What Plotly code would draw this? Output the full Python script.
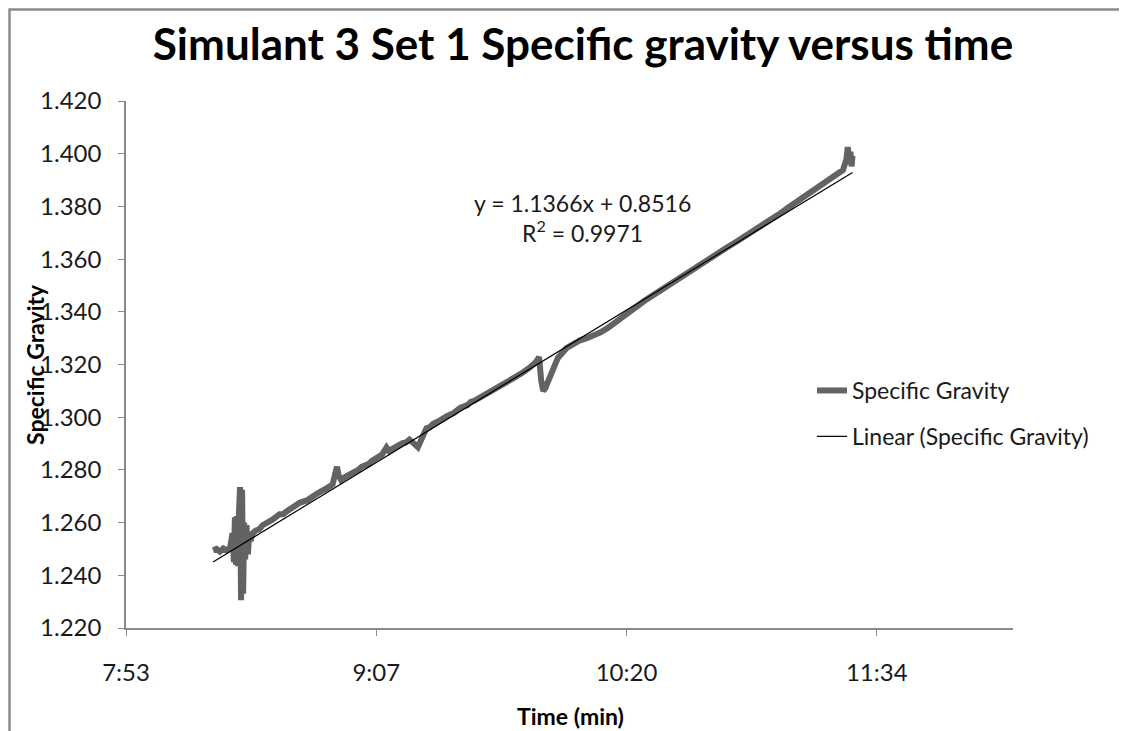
import plotly.graph_objects as go

# time of day in minutes after midnight, specific gravity
time_min = [
    498.5, 499.5, 500.5, 501.5, 502.5, 503.5,
    504.2, 504.6, 504.9, 505.2, 505.5, 505.8, 506.1, 506.4, 506.7, 507.0, 507.3,
    507.6, 507.9, 508.3, 508.7, 509.1, 509.5,
    510, 511, 512, 513, 514, 515, 516, 518, 519, 520, 522, 523, 524, 526, 527,
    528, 530, 531, 532, 533.5,
    534.3, 534.8, 535.3, 536, 537, 538, 540, 541, 542, 544, 545, 546, 548, 549.3,
    550, 551, 552, 554, 555,
    556, 557.5, 558.5, 559.5, 561, 562, 563, 565, 566, 567, 569, 570, 571, 573,
    574, 575, 577, 578, 579,
    581, 582, 583, 585, 586, 587, 589, 590, 591, 593, 594, 594.6, 595.2, 595.8,
    597, 599.5,
    602, 604, 606, 608, 610, 612, 614, 616, 618, 620, 622, 625, 628, 631, 634, 637,
    640, 643, 646,
    649, 652, 655, 658, 661, 664, 667, 670, 673, 676, 679, 681, 683, 684, 684.4,
    684.8, 685.2, 685.5, 685.8,
]
sg = [
    1.2495, 1.2500, 1.2490, 1.2502, 1.2495, 1.2505,
    1.2560, 1.2450, 1.2620, 1.2440, 1.2625, 1.2435, 1.2640, 1.2735, 1.2305, 1.2725,
    1.2330, 1.2600, 1.2460, 1.2590, 1.2480, 1.2560, 1.2530,
    1.2558, 1.2570, 1.2575, 1.2590, 1.2598, 1.2600, 1.2612, 1.2632, 1.2632, 1.2642,
    1.2662, 1.2666, 1.2676, 1.2684, 1.2696,
    1.2702, 1.2718, 1.2722, 1.2732, 1.2745,
    1.2790, 1.2812, 1.2778, 1.2762, 1.2772, 1.2778, 1.2795, 1.2800, 1.2812, 1.2822,
    1.2834, 1.2840, 1.2858, 1.2885,
    1.2872, 1.2880, 1.2888, 1.2902, 1.2904,
    1.2915, 1.2898, 1.2886, 1.2915, 1.2958, 1.2962, 1.2975, 1.2988, 1.2998, 1.3004,
    1.3016, 1.3030, 1.3036, 1.3046,
    1.3058, 1.3062, 1.3076, 1.3086, 1.3090,
    1.3105, 1.3115, 1.3122, 1.3138, 1.3142, 1.3152, 1.3168, 1.3180, 1.3186, 1.3208,
    1.3228, 1.3140, 1.3100, 1.3110,
    1.3150, 1.3225,
    1.3262, 1.3280, 1.3292, 1.3300, 1.3310, 1.3322, 1.3338, 1.3358, 1.3380, 1.3398,
    1.3416, 1.3443, 1.3468, 1.3494, 1.3520, 1.3545,
    1.3568, 1.3594, 1.3620,
    1.3644, 1.3668, 1.3692, 1.3718, 1.3742, 1.3768, 1.3796, 1.3822, 1.3848, 1.3875,
    1.3904, 1.3922, 1.3938, 1.3978, 1.4025,
    1.3985, 1.4008, 1.3952, 1.3992,
]

# linear trendline reported on the chart (x in days)
slope = 1.1366
intercept = 0.8516

tick_minutes = [473, 546.3, 619.6, 692.9]
tick_labels = ["7:53", "9:07", "10:20", "11:34"]
x_range_min = [473, 732.8]

y_ticks = [1.22, 1.24, 1.26, 1.28, 1.30, 1.32, 1.34, 1.36, 1.38, 1.40, 1.42]

FONT = "Lato, 'Open Sans', sans-serif"

x_days = [t / 1440 for t in time_min]
trend_x = [x_days[0], x_days[-1]]
trend_y = [slope * x + intercept for x in trend_x]

fig = go.Figure()
fig.add_trace(go.Scatter(
    x=x_days, y=sg, mode="lines", name="Specific Gravity",
    line=dict(color="#636363", width=6), legendgroup="a",
))
fig.add_trace(go.Scatter(
    x=trend_x, y=trend_y, mode="lines", name="Linear (Specific Gravity)",
    line=dict(color="#000000", width=1.2), legendgroup="b",
))

# the page puts the figure 8px in from the window edge
OFF = 8
W, H = 1127, 731
pw, ph = 887, 527
L, T = 126 - OFF, 101 - OFF
R, B = W - L - pw, H - T - ph


def px_x(p):
    return (p - OFF - L) / pw


def px_y(p):
    return (H - B - (p - OFF)) / ph


fig.update_xaxes(
    range=[v / 1440 for v in x_range_min],
    tickvals=[v / 1440 for v in tick_minutes], ticktext=tick_labels,
    showgrid=False, zeroline=False,
    showline=True, linecolor="#8a8a8a", linewidth=1.5,
    ticks="outside", ticklen=6, tickcolor="#8a8a8a",
    ticklabelstandoff=16,
    tickfont=dict(family=FONT, size=24, color="#1a1a1a"),
)
fig.update_yaxes(
    range=[1.22, 1.42], tickvals=y_ticks, tickformat=".3f",
    showgrid=False, zeroline=False,
    showline=True, linecolor="#8a8a8a", linewidth=1.5,
    ticks="outside", ticklen=6, tickcolor="#8a8a8a",
    ticklabelstandoff=12,
    tickfont=dict(family=FONT, size=24, color="#1a1a1a"),
)

fig.update_layout(
    width=W, height=H,
    margin=dict(l=L, r=R, t=T, b=B),
    paper_bgcolor="white", plot_bgcolor="white",
    title=dict(
        text="<b>Simulant 3 Set 1 Specific gravity versus time</b>",
        font=dict(family=FONT, size=44, color="#000"),
        xref="paper", x=px_x(583), xanchor="center",
        yref="container", y=1 - (45 - OFF) / H, yanchor="middle",
    ),
    legend=dict(
        x=px_x(812), y=px_y(369), xanchor="left", yanchor="top",
        font=dict(family=FONT, size=23, color="#1a1a1a"),
        traceorder="grouped", tracegroupgap=13,
        bgcolor="rgba(0,0,0,0)",
    ),
    showlegend=True,
)

fig.add_annotation(
    text="y = 1.1366x + 0.8516<br>R<sup>2</sup> = 0.9971",
    xref="paper", yref="paper", x=px_x(582), y=px_y(218),
    xanchor="center", yanchor="middle",
    showarrow=False, align="center",
    font=dict(family=FONT, size=23, color="#1a1a1a"),
)
fig.add_annotation(
    text="<b>Specific Gravity</b>", textangle=-90,
    xref="paper", yref="paper", x=px_x(35), y=px_y(365),
    xanchor="center", yanchor="middle",
    showarrow=False, font=dict(family=FONT, size=23, color="#000"),
)
fig.add_annotation(
    text="<b>Time (min)</b>",
    xref="paper", yref="paper", x=px_x(570), y=px_y(716),
    xanchor="center", yanchor="middle",
    showarrow=False, font=dict(family=FONT, size=23, color="#000"),
)

# chart frame (only its top-left corner is inside the picture)
fig.add_shape(
    type="rect", xref="paper", yref="paper",
    x0=px_x(9.5), y0=-1, x1=2, y1=px_y(9.5),
    line=dict(color="#8c8c8c", width=2.5),
)

fig.write_html("out.html")
